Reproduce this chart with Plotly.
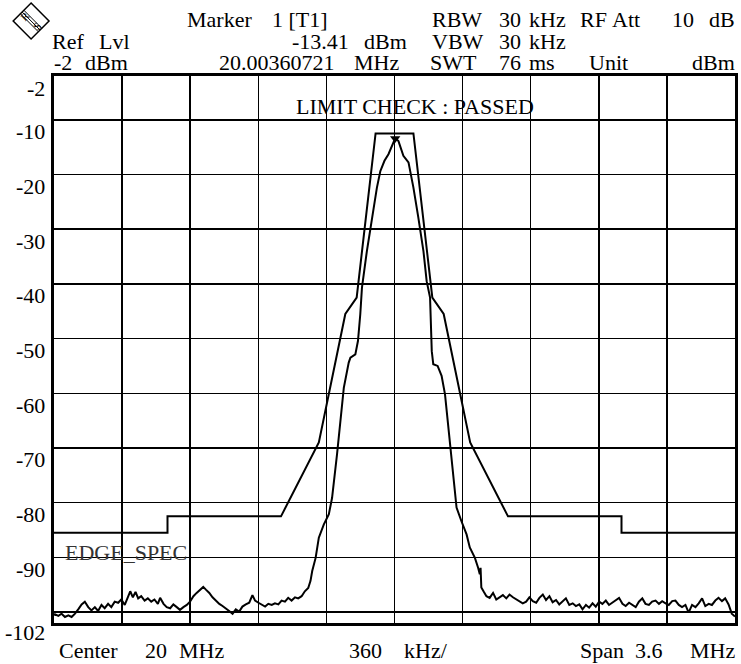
import plotly.graph_objects as go

# ---------------- data ----------------
trace_freq_mhz = [
    18.200, 18.205, 18.223, 18.240, 18.258, 18.276, 18.293, 18.311, 18.328, 18.346,
    18.363, 18.381, 18.398, 18.416, 18.433, 18.451, 18.468, 18.486, 18.503, 18.521,
    18.539, 18.556, 18.574, 18.591, 18.603, 18.617, 18.631, 18.645, 18.661, 18.679,
    18.696, 18.714, 18.731, 18.749, 18.761, 18.779, 18.796, 18.814, 18.831, 18.849,
    18.866, 18.884, 18.902, 18.919, 18.937, 18.954, 18.972, 18.989, 19.003, 19.021,
    19.038, 19.056, 19.074, 19.091, 19.109, 19.126, 19.144, 19.161, 19.179, 19.196,
    19.214, 19.232, 19.249, 19.263, 19.281, 19.298, 19.316, 19.333, 19.351, 19.368,
    19.386, 19.403, 19.421, 19.438, 19.456, 19.474, 19.491, 19.509, 19.526, 19.544,
    19.556,
    19.565, 19.583, 19.600, 19.626, 19.653, 19.670, 19.696, 19.714, 19.732, 19.758,
    19.767, 19.793, 19.807, 19.819, 19.828, 19.854, 19.881, 19.907, 19.925, 19.947,
    19.968, 19.985, 20.0036, 20.021, 20.047, 20.074, 20.100, 20.126, 20.153, 20.170,
    20.188, 20.197, 20.205, 20.228, 20.249, 20.267, 20.293, 20.328, 20.354, 20.381,
    20.398, 20.425, 20.442, 20.451, 20.455, 20.459, 20.472, 20.486,
    20.503, 20.521, 20.538, 20.556, 20.573, 20.591, 20.608, 20.626, 20.643, 20.661,
    20.678, 20.696, 20.713, 20.731, 20.749, 20.766, 20.784, 20.801, 20.819, 20.836,
    20.854, 20.871, 20.889, 20.906, 20.924, 20.942, 20.959, 20.977, 20.994, 21.012,
    21.029, 21.047, 21.064, 21.082, 21.099, 21.117, 21.134, 21.152, 21.170, 21.187,
    21.205, 21.222, 21.240, 21.257, 21.275, 21.292, 21.310, 21.327, 21.345, 21.362,
    21.380, 21.398, 21.415, 21.433, 21.450, 21.468, 21.485, 21.503, 21.520, 21.538,
    21.555, 21.573, 21.591, 21.608, 21.626, 21.643, 21.661, 21.678, 21.696, 21.713,
    21.731, 21.748, 21.766, 21.783, 21.800,
]
trace_level_dbm = [
    -100.6, -100.4, -100.7, -100.3, -100.9, -100.6, -100.9, -100.3, -99.5, -98.6,
    -98.1, -99.1, -99.7, -99.1, -99.8, -98.7, -99.3, -98.5, -99.1, -98.1,
    -98.3, -97.7, -98.7, -97.4, -96.2, -97.3, -96.3, -97.5, -97.1, -97.9,
    -97.5, -98.1, -97.7, -98.5, -97.4, -98.5, -99.1, -99.3, -98.6, -99.1,
    -99.6, -99.1, -98.7, -98.1, -97.1, -96.5, -95.9, -95.4, -95.9, -96.5,
    -97.3, -98.0, -98.5, -98.9, -99.3, -99.8, -100.3, -99.5, -99.9, -99.0,
    -98.6, -98.3, -96.9, -97.9, -98.3, -98.7, -99.0, -98.5, -98.7, -98.4,
    -98.6, -97.9, -98.1, -97.4, -97.9, -97.3, -97.5, -97.1, -96.2, -95.6,
    -94.3,
    -92.5, -90.1, -86.4, -84.0, -82.1, -79.1, -71.2, -65.1, -59.0, -54.4,
    -53.5, -52.9, -50.4, -45.6, -40.7, -34.0, -27.9, -22.4, -19.4, -17.5,
    -16.3, -14.8, -13.41, -13.9, -16.6, -17.8, -22.4, -27.9, -34.0, -39.5,
    -42.5, -52.3, -54.7, -55.0, -56.8, -60.2, -68.7, -80.9, -83.4, -85.8,
    -88.2, -90.1, -91.9, -93.1, -91.9, -95.5, -96.3, -97.1,
    -97.4, -96.5, -97.7, -97.3, -96.9, -97.5, -96.8, -97.3, -97.7, -98.0,
    -98.4, -98.1, -97.3, -98.0, -98.3, -97.4, -96.8, -97.8, -97.1, -98.2,
    -97.8, -98.6, -98.0, -97.5, -98.7, -98.4, -98.9, -98.6, -99.5, -98.7,
    -99.2, -98.4, -99.0, -98.1, -98.5, -97.9, -98.7, -98.3, -97.9, -97.4,
    -98.5, -98.9, -98.3, -98.7, -99.1, -98.1, -97.5, -98.5, -98.7, -98.1,
    -97.9, -98.5, -98.0, -98.4, -98.7, -98.0, -97.9, -98.7, -99.1, -98.7,
    -100.1, -98.7, -99.1, -98.4, -97.5, -98.9, -98.5, -98.7, -97.9, -97.4,
    -98.0, -97.5, -98.6, -100.3, -100.8,
]

limit_freq_mhz = [18.2, 18.8, 18.8, 19.4, 19.6, 19.74, 19.8, 19.9,
                  20.1, 20.2, 20.26, 20.4, 20.6, 21.2, 21.2, 21.8]
limit_level_dbm = [-85.5, -85.5, -82.5, -82.5, -69.0, -45.5, -42.5, -12.5,
                   -12.5, -42.5, -45.5, -69.0, -82.5, -82.5, -85.5, -85.5]

marker_freq_mhz = [20.0036072]
marker_level_dbm = [-13.41]

y_tick_values = [-2, -10, -20, -30, -40, -50, -60, -70, -80, -90, -102]
y_grid_values = [-10, -20, -30, -40, -50, -60, -70, -80, -90, -100]
x_grid_values = [18.56, 18.92, 19.28, 19.64, 20.0, 20.36, 20.72, 21.08, 21.44]

# ---------------- layout geometry ----------------
W, H = 741, 664
L, R, T, B = 54, 3, 76, 41
FONT = "Liberation Serif, Times New Roman, serif"
FS = 22

fig = go.Figure()
fig.add_trace(go.Scatter(x=limit_freq_mhz, y=limit_level_dbm, mode="lines",
                         line=dict(color="black", width=2), hoverinfo="skip"))
fig.add_trace(go.Scatter(x=trace_freq_mhz, y=trace_level_dbm, mode="lines",
                         line=dict(color="black", width=2), hoverinfo="skip"))
fig.add_trace(go.Scatter(x=marker_freq_mhz, y=marker_level_dbm, mode="markers",
                         marker=dict(symbol="triangle-down", size=9, color="black"),
                         hoverinfo="skip"))

annotations = []


def px_text(s, px, py, anchor="left", size=FS, color="black"):
    annotations.append(dict(
        text=s, xref="paper", yref="paper", x=0, y=1,
        xshift=px - L, yshift=T - py, xanchor=anchor, yanchor="middle",
        showarrow=False, font=dict(family=FONT, size=size, color=color)))


Y1, Y2, Y3 = 19, 41, 62
# header line 1
px_text("Marker", 185, Y1)
px_text("1 [T1]", 270, Y1)
px_text("RBW", 430, Y1)
px_text("30", 497, Y1)
px_text("kHz", 527, Y1)
px_text("RF", 578, Y1)
px_text("Att", 610, Y1)
px_text("10", 670, Y1)
px_text("dB", 737, Y1, anchor="right")
# header line 2
px_text("Ref", 50, Y2)
px_text("Lvl", 97, Y2)
px_text("-13.41", 290, Y2)
px_text("dBm", 362, Y2)
px_text("VBW", 430, Y2)
px_text("30", 497, Y2)
px_text("kHz", 527, Y2)
# header line 3
px_text("-2", 52, Y3)
px_text("dBm", 83, Y3)
px_text("20.00360721", 217, Y3)
px_text("MHz", 352, Y3)
px_text("SWT", 428, Y3)
px_text("76", 497, Y3)
px_text("ms", 527, Y3)
px_text("Unit", 587, Y3)
px_text("dBm", 737, Y3, anchor="right")
# bottom line
px_text("Center", 57, 650)
px_text("20", 143, 650)
px_text("MHz", 177, 650)
px_text("360", 347, 650)
px_text("kHz/", 402, 650)
px_text("Span", 578, 650)
px_text("3.6", 633, 650)
px_text("MHz", 737, 650, anchor="right")

# y tick labels (drawn slightly below their grid lines, as on the instrument)
for v in y_tick_values:
    annotations.append(dict(
        text=str(v), xref="paper", yref="y", x=0, y=v, xshift=-7,
        yshift=-9 if v == -102 else -12, xanchor="right", yanchor="middle",
        showarrow=False, font=dict(family=FONT, size=FS, color="black")))

# in-plot texts
annotations.append(dict(text="LIMIT CHECK : PASSED", xref="x", yref="paper",
                        x=20.11, y=1, yshift=-30, xanchor="center", yanchor="middle",
                        showarrow=False, font=dict(family=FONT, size=FS, color="black")))
annotations.append(dict(text="EDGE_SPEC", xref="paper", yref="y", x=0, xshift=9,
                        y=-90, yshift=5, xanchor="left", yanchor="middle",
                        showarrow=False, font=dict(family=FONT, size=FS, color="#333333")))

# R&S logo (diamond) in pixel-derived paper coordinates
def pxp(px, py):
    return (px - L) / (W - L - R), (H - B - py) / (H - T - B)

cx, cy, hs = 31, 21, 18
pts = [pxp(cx, cy - hs), pxp(cx + hs, cy), pxp(cx, cy + hs), pxp(cx - hs, cy)]
path = "M {} {} L {} {} L {} {} L {} {} Z".format(*[c for p in pts for c in p])
shapes = [dict(type="path", xref="paper", yref="paper", path=path,
               line=dict(color="black", width=1.5), fillcolor="white")]
for off in (-2.5, 0, 2.5):
    a = pxp(cx - hs / 2 + off * 0.7, cy - hs / 2 - off * 0.7)
    b = pxp(cx + hs / 2 + off * 0.7, cy + hs / 2 - off * 0.7)
    shapes.append(dict(type="line", xref="paper", yref="paper", x0=a[0], y0=a[1],
                       x1=b[0], y1=b[1], line=dict(color="black", width=1)))
for ch, (lx, ly) in (("R", (cx - 6, cy - 5)), ("S", (cx + 6, cy + 5))):
    annotations.append(dict(text=ch, xref="paper", yref="paper", x=0, y=1,
                            xshift=lx - L, yshift=T - ly, xanchor="center",
                            yanchor="middle", textangle=-45, showarrow=False,
                            font=dict(family=FONT, size=11, color="black")))

fig.update_layout(
    width=W, height=H,
    margin=dict(l=L, r=R, t=T, b=B, pad=0),
    paper_bgcolor="white", plot_bgcolor="white",
    showlegend=False,
    hovermode=False,
    annotations=annotations,
    shapes=shapes,
    xaxis=dict(range=[18.2, 21.8], tickvals=x_grid_values, showticklabels=False,
               ticks="", showgrid=True, gridcolor="black", gridwidth=1.5,
               zeroline=False, showline=True, mirror=True, linecolor="black",
               linewidth=3, fixedrange=True),
    yaxis=dict(range=[-102, -2], tickvals=y_grid_values, showticklabels=False,
               ticks="", showgrid=True, gridcolor="black", gridwidth=1.5,
               zeroline=False, showline=True, mirror=True, linecolor="black",
               linewidth=3, fixedrange=True),
)

fig.write_html("out.html",
               config={"displayModeBar": False, "staticPlot": True},
               post_script="document.body.style.margin='0';document.body.style.overflow='hidden';")
